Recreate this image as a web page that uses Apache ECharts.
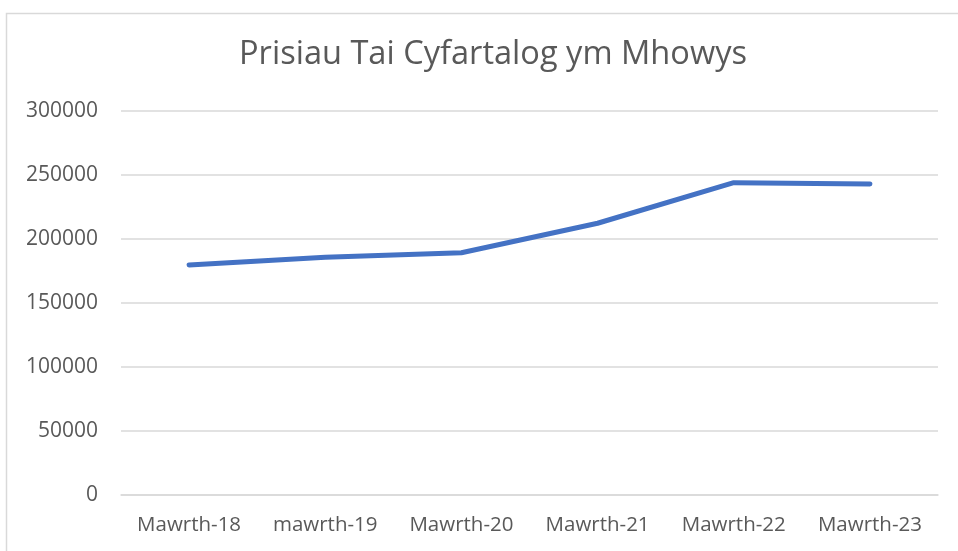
<!DOCTYPE html>
<html>
<head>
<meta charset="utf-8">
<script src="https://cdn.jsdelivr.net/npm/echarts@6/dist/echarts.min.js"></script>
<style>html,body{margin:0;padding:0;background:#fff;}#c{width:958px;height:551px;}</style>
</head>
<body>
<div id="c"></div>
<script>
const categories = ['Mawrth-18', 'mawrth-19', 'Mawrth-20', 'Mawrth-21', 'Mawrth-22', 'Mawrth-23'];
const prices = [179700, 185700, 189300, 212300, 244000, 243000];
const yTicks = { min: 0, max: 300000, interval: 50000 };
const titleText = 'Prisiau Tai Cyfartalog ym Mhowys';

const chart = echarts.init(document.getElementById('c'), null, { renderer: 'canvas' });
chart.setOption({
  backgroundColor: '#fff',
  animation: false,
  graphic: [{
    type: 'rect', left: 4, top: 11, shape: { width: 1000, height: 600 },
    style: { fill: 'none', stroke: '#d9d9d9', lineWidth: 1.5 }, silent: true
  }],
  title: {
    text: titleText, left: 234, top: 33,
    textStyle: { fontFamily: 'Open Sans', fontSize: 32.6, fontWeight: 'normal', color: '#595959' }
  },
  grid: { left: 121, right: 20, top: 111, bottom: 56, containLabel: false },
  xAxis: {
    type: 'category', data: categories, boundaryGap: true,
    axisLine: { lineStyle: { color: '#d9d9d9', width: 1.5 } },
    axisTick: { show: false },
    axisLabel: { color: '#595959', fontFamily: 'Open Sans', fontSize: 20.5, margin: 20 }
  },
  yAxis: {
    type: 'value', min: yTicks.min, max: yTicks.max, interval: yTicks.interval,
    axisLine: { show: false }, axisTick: { show: false },
    splitLine: { lineStyle: { color: '#d9d9d9', width: 1.5 } },
    axisLabel: { color: '#595959', fontFamily: 'Open Sans', fontSize: 21, margin: 23,
      formatter: function (v) { return String(v); } }
  },
  series: [{
    type: 'line', data: prices, symbol: 'none',
    lineStyle: { color: '#4472C4', width: 5, cap: 'round', join: 'round' }
  }]
});
</script>
</body>
</html>
